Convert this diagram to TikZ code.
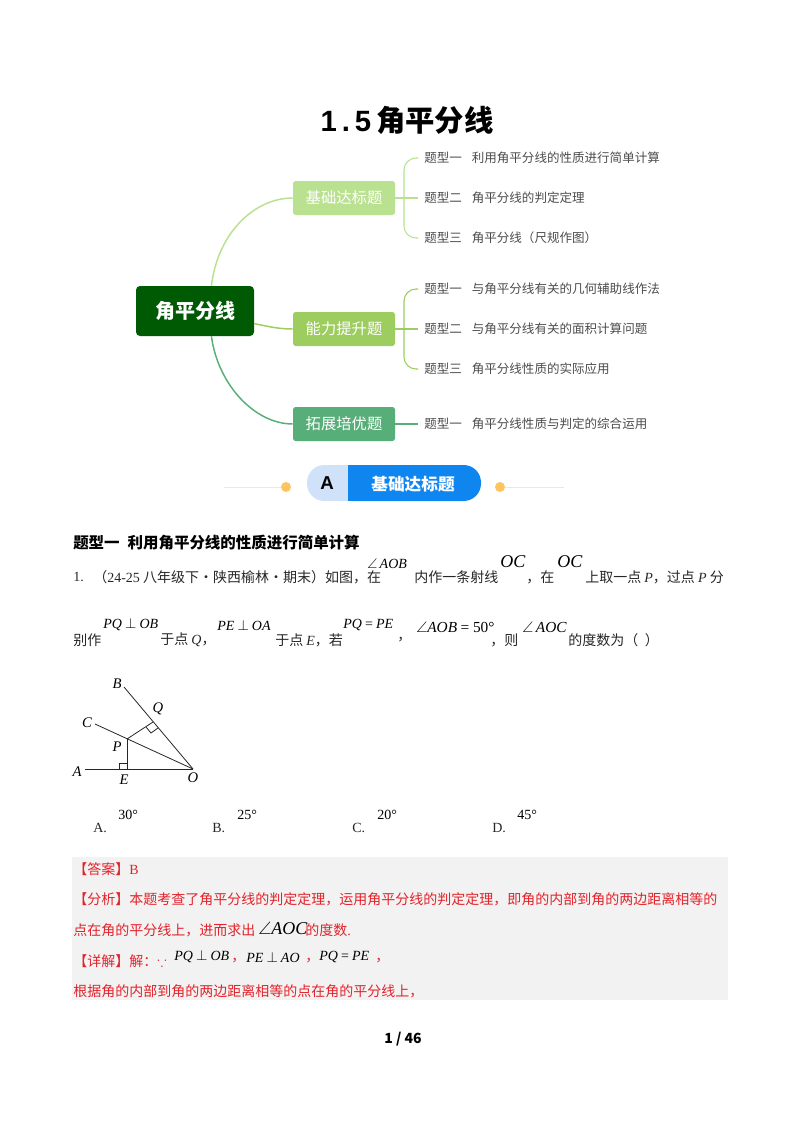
\documentclass[tikz,border=0pt]{standalone}
\usepackage{fontspec}
\usepackage{amsmath,amssymb}
\usepackage{xcolor}
\setmainfont{Noto Sans CJK SC}
\newfontfamily\latfont{Liberation Serif}
\newfontfamily\herosfont{Liberation Sans}
\newcommand{\lat}[1]{{\latfont #1}}
\newcommand{\mi}[1]{{\latfont\itshape #1}}
\definecolor{rootgreen}{HTML}{005A04}
\definecolor{branchone}{HTML}{B9E18F}
\definecolor{branchtwo}{HTML}{9DCC5F}
\definecolor{branchthree}{HTML}{58AE78}
\definecolor{answergray}{HTML}{F2F2F2}
\definecolor{answerred}{HTML}{E2232B}
\definecolor{badgeblue}{HTML}{0F85F0}
\definecolor{badgelight}{HTML}{CFE2F9}
\definecolor{dotyellow}{HTML}{FDC45F}
\definecolor{rulelilac}{HTML}{E6E6F5}
\usetikzlibrary{arrows.meta,positioning}

\begin{document}
\begin{tikzpicture}[
  x=0.75pt,y=-0.75pt,
  root/.style={fill=rootgreen, rounded corners=3pt, minimum width=88.5pt,
    minimum height=37.5pt, inner sep=0pt, text=white,
    font=\fontsize{15pt}{18pt}\selectfont\bfseries},
  branch/.style={rounded corners=2pt, minimum width=76.5pt,
    minimum height=25.5pt, inner sep=0pt, text=white,
    font=\fontsize{11.5pt}{14pt}\selectfont},
  leaf/.style={anchor=west, inner sep=4.5pt, text=black!70,
    font=\fontsize{9.4pt}{12pt}\selectfont},
  body/.style={anchor=west, inner sep=0pt, text=black!85,
    font=\fontsize{10.5pt}{12pt}\selectfont},
  formula/.style={anchor=west, inner sep=0pt, text=black,
    font=\fontsize{10.5pt}{12pt}\selectfont},
  bigformula/.style={formula, font=\fontsize{13.5pt}{15pt}\selectfont},
  point/.style={inner sep=0pt, text=black,
    font=\fontsize{11pt}{12pt}\selectfont\latfont\itshape},
  answer/.style={body, text=answerred},
  link/.style={line width=1.1pt},
  twig/.style={line width=0.8pt, rounded corners=9pt},
  figline/.style={line width=0.6pt, black!85}
]
\useasboundingbox (0,0) rectangle (800,1132);
\fill[answergray] (72,857) rectangle (728,1000);

\node[inner sep=0pt, font=\fontsize{22pt}{26pt}\selectfont\bfseries] (title) at (407,120)
  {{\herosfont 1\,.\,5}\,角平分线};

\node[root] (main) at (195,311) {角平分线};
\node[branch, fill=branchone] (basic) at (344,198) {基础达标题};
\node[branch, fill=branchtwo] (ability) at (344,329) {能力提升题};
\node[branch, fill=branchthree] (extend) at (344,424) {拓展培优题};

\node[leaf] (la) at (418,158) {题型一\hspace{7.5pt}利用角平分线的性质进行简单计算};
\node[leaf] (lb) at (418,198) {题型二\hspace{7.5pt}角平分线的判定定理};
\node[leaf] (lc) at (418,238) {题型三\hspace{7.5pt}角平分线（尺规作图）};
\node[leaf] (ld) at (418,289) {题型一\hspace{7.5pt}与角平分线有关的几何辅助线作法};
\node[leaf] (le) at (418,329) {题型二\hspace{7.5pt}与角平分线有关的面积计算问题};
\node[leaf] (lf) at (418,369) {题型三\hspace{7.5pt}角平分线性质的实际应用};
\node[leaf] (lg) at (418,424) {题型一\hspace{7.5pt}角平分线性质与判定的综合运用};

\coordinate (bracea) at (404,198);
\coordinate (braceb) at (404,329);

\draw[link, branchone] (main.57) .. controls (218,232) and (255,198) .. (basic.west);
\draw[link, branchtwo] (main.-12) .. controls (270,327) and (280,329) .. (ability.west);
\draw[link, branchthree] (main.-57) .. controls (218,385) and (255,424) .. (extend.west);

\draw[twig, branchone] (basic.east) -- (lb.west);
\draw[twig, branchone] (la.west) -| (bracea) |- (lc.west);
\draw[twig, branchtwo] (ability.east) -- (le.west);
\draw[twig, branchtwo] (ld.west) -| (braceb) |- (lf.west);
\draw[twig, branchthree] (extend.east) -- (lg.west);

\fill[badgelight, rounded corners=13pt] (307,465) rectangle (360,501);
\fill[badgeblue, rounded corners=13pt] (335,465) rectangle (481,501);
\fill[badgeblue] (348,465) rectangle (370,501);
\fill[badgelight] (335,465) rectangle (348,501);
\node[inner sep=0pt, font=\fontsize{14pt}{16pt}\selectfont\bfseries\herosfont] (badgea) at (327,483) {A};
\node[inner sep=0pt, text=white, font=\fontsize{12.5pt}{15pt}\selectfont\bfseries] (badgeb) at (413,484) {基础达标题};
\node[circle, fill=dotyellow, minimum size=7.5pt, inner sep=0pt] (dotl) at (286,487) {};
\node[circle, fill=dotyellow, minimum size=7.5pt, inner sep=0pt] (dotr) at (500,487) {};
\coordinate (rulel) at (224,487);
\coordinate (ruler) at (564,487);
\draw[rulelilac, line width=0.7pt] (rulel) -- (dotl);
\draw[rulelilac, line width=0.7pt] (dotr) -- (ruler);

\node[body, text=black, font=\fontsize{11.6pt}{14pt}\selectfont\bfseries] (head) at (73,543)
  {题型一\hspace{6pt}利用角平分线的性质进行简单计算};

\node[body] (numa) at (73,577) {\lat{1.}};
\node[body] (srca) at (93,577) {（\lat{24-25} 八年级下·陕西榆林·期末）如图，在};
\node[formula] (fa) at (367,564) {$\angle$\,\mi{AOB}};
\node[body] (ta) at (414,577) {内作一条射线};
\node[bigformula] (fb) at (500,562) {\mi{OC}};
\node[body] (tb) at (526,577) {，在};
\node[bigformula] (fc) at (557,562) {\mi{OC}};
\node[body] (tc) at (585,577) {上取一点 \mi{P}，过点 \mi{P} 分};

\node[body] (td) at (73,640) {别作};
\node[formula] (fd) at (103,625) {\mi{PQ} $\perp$ \mi{OB}};
\node[body] (te) at (160,640) {于点 \mi{Q}，};
\node[formula] (ff) at (217,625) {\mi{PE} $\perp$ \mi{OA}};
\node[body] (tf) at (275,640) {于点 \mi{E}，若};
\node[formula] (fg) at (343,625) {\mi{PQ} \lat{=} \mi{PE}};
\node[body] (tg) at (397,640) {，};
\node[formula, font=\fontsize{11.5pt}{14pt}\selectfont] (fh) at (416,627) {$\angle$\mi{AOB} \lat{= 50°}};
\node[body] (th) at (490,640) {，则};
\node[formula, font=\fontsize{11.5pt}{14pt}\selectfont] (fj) at (522,627) {$\angle$\,\mi{AOC}};
\node[body] (tj) at (568,640) {的度数为（\hspace{5pt}）};

\coordinate (ptA) at (85,769);
\coordinate (ptB) at (124,687);
\coordinate (ptC) at (95,724);
\coordinate (ptO) at (193,769);
\coordinate (ptP) at (127,739);
\coordinate (ptQ) at (153,722);
\coordinate (ptE) at (127,769);
\draw[figline] (ptA) -- (ptO);
\draw[figline] (ptB) -- (ptO);
\draw[figline] (ptC) -- (ptO);
\draw[figline] (ptP) -- (ptQ);
\draw[figline] (ptP) -- (ptE);
\draw[figline] (119,769) -- (119,763) -- (127,763);
\draw[figline] (146,727) -- (151,733) -- (158,728);
\node[point] (labA) at (77,772) {A};
\node[point] (labB) at (117,684) {B};
\node[point] (labC) at (87,723) {C};
\node[point] (labP) at (117,747) {P};
\node[point] (labQ) at (158,709) {Q};
\node[point] (labE) at (124,780) {E};
\node[point] (labO) at (193,778) {O};

\node[body] (opta) at (93,828) {\lat{A.}};
\node[formula] (vala) at (118,815) {\lat{30°}};
\node[body] (optb) at (212,828) {\lat{B.}};
\node[formula] (valb) at (237,815) {\lat{25°}};
\node[body] (optc) at (352,828) {\lat{C.}};
\node[formula] (valc) at (377,815) {\lat{20°}};
\node[body] (optd) at (492,828) {\lat{D.}};
\node[formula] (vald) at (517,815) {\lat{45°}};

\node[answer] (ansa) at (73,869) {【答案】\lat{B}};
\node[answer] (ansb) at (73,899) {【分析】本题考查了角平分线的判定定理，运用角平分线的判定定理，即角的内部到角的两边距离相等的};
\node[answer] (ansc) at (73,930) {点在角的平分线上，进而求出};
\node[bigformula] (fk) at (258,928) {$\angle$\mi{AOC}};
\node[answer] (ansd) at (305,930) {的度数\lat{.}};
\node[answer] (anse) at (73,961) {【详解】解：$\because$};
\node[formula] (fl) at (174,957) {\mi{PQ} $\perp$ \mi{OB}};
\node[answer] (ansf) at (231,961) {，};
\node[formula] (fm) at (246,957) {\mi{PE} $\perp$ \mi{AO}};
\node[answer] (ansg) at (305,961) {，};
\node[formula] (fn) at (319,957) {\mi{PQ} \lat{=} \mi{PE}};
\node[answer] (ansh) at (375,961) {，};
\node[answer] (ansi) at (73,991) {根据角的内部到角的两边距离相等的点在角的平分线上，};

\node[inner sep=0pt, font=\fontsize{10.5pt}{12pt}\selectfont\bfseries] (foot) at (403,1039) {1 / 46};
\end{tikzpicture}
\end{document}
